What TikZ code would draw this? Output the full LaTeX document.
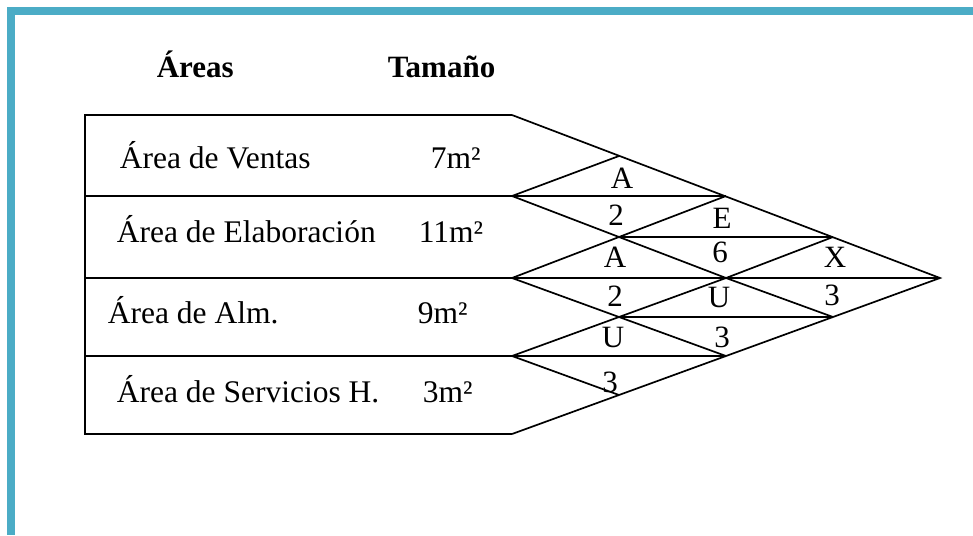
\documentclass[tikz,border=0pt]{standalone}
\usepackage{fontspec}
\setmainfont{Liberation Serif}
\usetikzlibrary{positioning}
\definecolor{frameblue}{RGB}{75,172,198}

\begin{document}
\begin{tikzpicture}[
  x=1pt, y=-1pt,
  line width=1.7pt,
  head/.style={font=\fontsize{31}{36}\selectfont\bfseries, inner sep=0pt, anchor=base west},
  area/.style={font=\fontsize{31.5}{36}\selectfont, inner sep=0pt, anchor=base west},
  rel/.style={font=\fontsize{31}{36}\selectfont, inner sep=0pt}
]
\useasboundingbox (0,0) rectangle (973,535);

% --- frame (top and left bands)
\fill[frameblue] (7,7) rectangle (973,15);
\fill[frameblue] (7,7) rectangle (15,535);

% --- x columns of the chart
\def\xL{85}     % left edge of the table
\def\xA{512}
\def\xB{619}
\def\xC{726}
\def\xD{833}
\def\xE{940}

% --- y rows (half steps)
\def\yA{115}
\def\yB{156}
\def\yC{196}
\def\yD{237}
\def\yE{278}
\def\yF{317}
\def\yG{356}
\def\yH{395}
\def\yI{434}

% --- lattice points
\coordinate (v00) at (\xA,\yA);
\coordinate (v02) at (\xA,\yC);
\coordinate (v04) at (\xA,\yE);
\coordinate (v06) at (\xA,\yG);
\coordinate (v08) at (\xA,\yI);
\coordinate (v11) at (\xB,\yB);
\coordinate (v13) at (\xB,\yD);
\coordinate (v15) at (\xB,\yF);
\coordinate (v17) at (\xB,\yH);
\coordinate (v22) at (\xC,\yC);
\coordinate (v24) at (\xC,\yE);
\coordinate (v26) at (\xC,\yG);
\coordinate (v33) at (\xD,\yD);
\coordinate (v35) at (\xD,\yF);
\coordinate (v44) at (\xE,\yE);

% --- headers
\node[head] (hAreas) at (156,77) {Áreas};
\node[head] (hSize) at (387,77) {Tamaño};

% --- table outline and row lines
\draw (v00) -- (\xL,\yA) -- (\xL,\yI) -- (v08);
\draw (\xL,\yC) -- (v22);
\draw (\xL,\yE) -- (v44);
\draw (\xL,\yG) -- (v26);

% --- chart outline
\draw (v00) -- (v44) -- (v08);

% --- diagonals going down
\draw (v02) -- (v13) -- (v24) -- (v35);
\draw (v04) -- (v15) -- (v26);
\draw (v06) -- (v17);

% --- diagonals going up
\draw (v02) -- (v11);
\draw (v04) -- (v13) -- (v22);
\draw (v06) -- (v15) -- (v24) -- (v33);

% --- inner horizontals
\draw (v13) -- (v33);
\draw (v15) -- (v35);

% --- areas and sizes
\node[area] (aVen) at (119,168) {Área de Ventas};
\node[area] (sVen) at (430,168) {7m²};
\node[area] (aEla) at (116,242) {Área de Elaboración};
\node[area] (sEla) at (418,242) {11m²};
\node[area] (aAlm) at (107,323) {Área de Alm.};
\node[area] (sAlm) at (417,323) {9m²};
\node[area] (aSer) at (116,402) {Área de Servicios H.};
\node[area] (sSer) at (422,402) {3m²};

% --- relation codes and reasons
\node[rel] (r12) at (622,178) {A};
\node[rel] (n12) at (616,215) {2};
\node[rel] (r13) at (722,218) {E};
\node[rel] (n13) at (720,252) {6};
\node[rel] (r14) at (835,257) {X};
\node[rel] (r23) at (615,257) {A};
\node[rel] (n23) at (615,296) {2};
\node[rel] (r24) at (719,297) {U};
\node[rel] (n14) at (832,295) {3};
\node[rel] (r34) at (613,337) {U};
\node[rel] (n24) at (722,337) {3};
\node[rel] (n34) at (610,382) {3};

\end{tikzpicture}
\end{document}
